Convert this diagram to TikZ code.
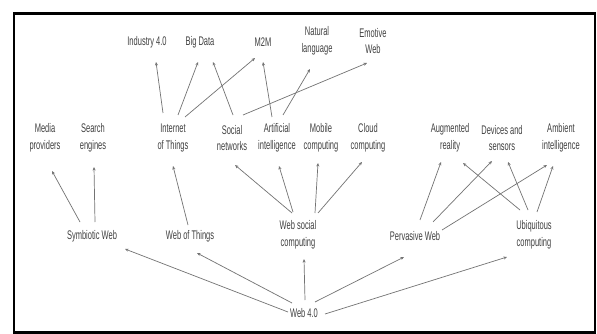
\documentclass[tikz,border=0pt]{standalone}
\usepackage{fontspec}
\setmainfont{Liberation Sans}[FakeStretch=0.6]
\usetikzlibrary{calc,arrows.meta}
\newcommand\lnk[4]{\draw[conn] ($(#1)+(#2)$) -- ($(#3)+(#4)$);}
\begin{document}
\begin{tikzpicture}[x=1pt,y=-1pt,
  lbl/.style={inner sep=0pt,align=center,text=black!75,font=\fontsize{12.5}{16.5}\selectfont},
  conn/.style={draw=black!55,line width=0.7pt,-{Stealth[length=3.5pt,width=3pt]}}]
\useasboundingbox (0,0) rectangle (597,334);
\fill[white] (0,0) rectangle (597,334);
\draw[line width=2.5pt] (14,13.5) rectangle (595,332.5);
% top row
\node[lbl] (ind) at (147,42) {Industry 4.0};
\node[lbl] (big) at (200,42) {Big Data};
\node[lbl] (m2m) at (263,42) {M2M};
\node[lbl] (nat) at (317,41) {Natural\\language};
\node[lbl] (emo) at (373,41) {Emotive\\Web};
% second row
\node[lbl] (med) at (45,138) {Media\\providers};
\node[lbl] (sea) at (93,138) {Search\\engines};
\node[lbl] (iot) at (173,138) {Internet\\of Things};
\node[lbl] (soc) at (232,138) {Social\\networks};
\node[lbl] (art) at (277,138) {Artificial\\intelligence};
\node[lbl] (mob) at (321,138) {Mobile\\computing};
\node[lbl] (clo) at (368,138) {Cloud\\computing};
\node[lbl] (aug) at (450,138) {Augmented\\reality};
\node[lbl] (dev) at (502,138) {Devices and\\sensors};
\node[lbl] (amb) at (561,138) {Ambient\\intelligence};
% third row
\node[lbl] (sym) at (92,236) {Symbiotic Web};
\node[lbl] (wot) at (190,236) {Web of Things};
\node[lbl] (wsc) at (298,235) {Web social\\computing};
\node[lbl] (per) at (415,236) {Pervasive Web};
\node[lbl] (ubi) at (534,235) {Ubiquitous\\computing};
% root
\node[lbl] (w40) at (304,313) {Web 4.0};
% connectors
\lnk{w40}{-16,-1}{sym}{33,13}
\lnk{w40}{-12,-10}{wot}{7,17}
\lnk{w40}{1,-13}{wsc}{6,24}
\lnk{w40}{11,-11}{per}{-11,21}
\lnk{w40}{21,1}{ubi}{-27,22}
\lnk{sym}{-12,-14}{med}{7,33}
\lnk{sym}{3,-14}{sea}{1,29}
\lnk{wot}{-2,-11}{iot}{0,28}
\lnk{wsc}{-6,-22}{soc}{3,27}
\lnk{wsc}{-5,-23}{art}{2,28}
\lnk{wsc}{17,-22}{mob}{-3,25}
\lnk{wsc}{20,-22}{clo}{-6,24}
\lnk{per}{5,-16}{aug}{-9,24}
\lnk{per}{18,-14}{dev}{-10,23}
\lnk{per}{27,-6}{amb}{-14,27}
\lnk{ubi}{-14,-25}{aug}{13,25}
\lnk{ubi}{-6,-25}{dev}{6,24}
\lnk{ubi}{3,-23}{amb}{-8,28}
\lnk{iot}{-10,-25}{ind}{9,20}
\lnk{iot}{5,-23}{big}{-2,20}
\lnk{iot}{12,-21}{m2m}{-8,16}
\lnk{soc}{1,-23}{big}{13,20}
\lnk{soc}{11,-23}{emo}{-6,22}
\lnk{art}{-5,-21}{m2m}{0,20}
\lnk{art}{6,-23}{nat}{-7,28}
\end{tikzpicture}
\end{document}
